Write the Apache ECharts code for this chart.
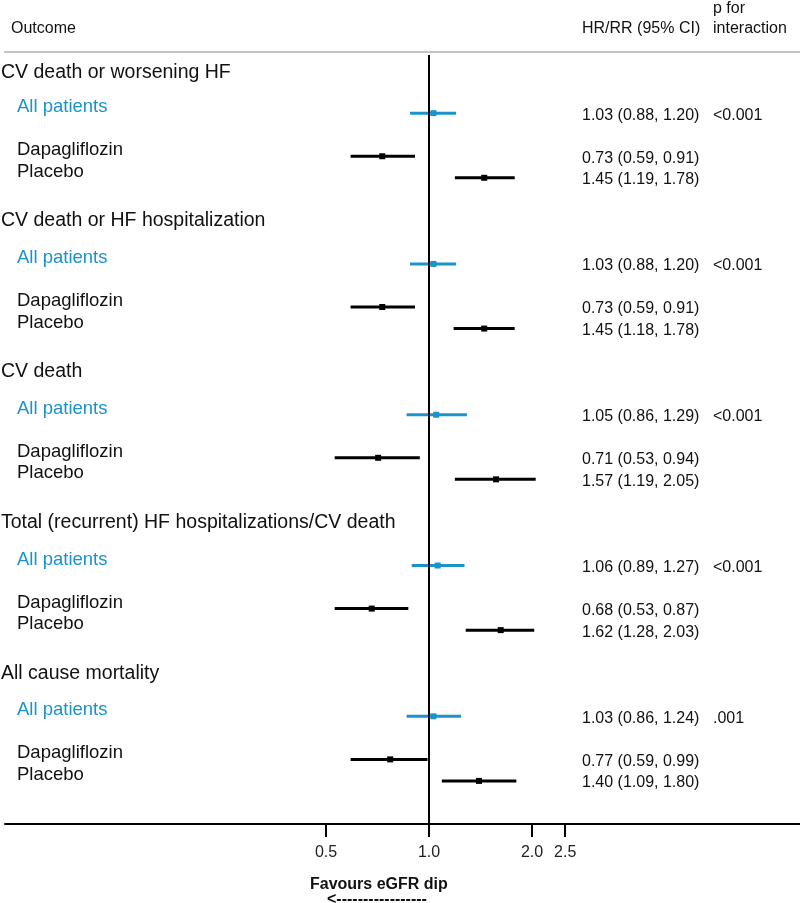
<!DOCTYPE html>
<html><head><meta charset="utf-8">
<script src="https://cdn.jsdelivr.net/npm/echarts@6/dist/echarts.min.js"></script>
<style>html,body{margin:0;padding:0;background:#fff}#c{width:800px;height:903px}</style>
</head><body><div id="c"></div>
<script>
// ---- data ----
const outcomes = [
  'CV death or worsening HF',
  'CV death or HF hospitalization',
  'CV death',
  'Total (recurrent) HF hospitalizations/CV death',
  'All cause mortality'
];
const subgroups = ['All patients', 'Dapagliflozin', 'Placebo'];
const allHR  = [1.03, 1.03, 1.05, 1.06, 1.03];
const allLo  = [0.88, 0.88, 0.86, 0.89, 0.86];
const allHi  = [1.20, 1.20, 1.29, 1.27, 1.24];
const dapaHR = [0.73, 0.73, 0.71, 0.68, 0.77];
const dapaLo = [0.59, 0.59, 0.53, 0.53, 0.59];
const dapaHi = [0.91, 0.91, 0.94, 0.87, 0.99];
const placHR = [1.45, 1.45, 1.57, 1.62, 1.40];
const placLo = [1.19, 1.18, 1.19, 1.28, 1.09];
const placHi = [1.78, 1.78, 2.05, 2.03, 1.80];
const pInteraction = ['<0.001', '<0.001', '<0.001', '<0.001', '.001'];
const xTicks = [0.5, 1.0, 2.0, 2.5];
const headerOutcome = 'Outcome';
const headerHR = 'HR/RR (95% CI)';
const headerP1 = 'p for';
const headerP2 = 'interaction';
const footLabel = 'Favours eGFR dip';
const footArrow = '<-----------------';

// ---- styling / layout ----
const BLUE = '#1a93cb';
const BLACK = '#000000';
const TXT = '#111111';
const FONT = '"Liberation Sans", Arial, Helvetica, sans-serif';
const rowOffset = [0, 2, 3];
const groupStep = 7;
const titleOffset = -2;

const sets = [[allHR, allLo, allHi], [dapaHR, dapaLo, dapaHi], [placHR, placLo, placHi]];
const ciRows = [], ciKind = [], textRows = [];
const fmt = v => v.toFixed(2);
outcomes.forEach((o, g) => {
  const base = g * groupStep;
  textRows.push({pos: base + titleOffset, text: o, x: 1, dy: g === 0 ? 3 : 0, size: 19.5, color: TXT});
  sets.forEach((s, k) => {
    const pos = base + rowOffset[k];
    ciRows.push([s[1][g], s[2][g], s[0][g], pos]);
    ciKind.push(k);
    textRows.push({pos, text: subgroups[k], x: 17, dy: -6, size: 18.5, color: k === 0 ? BLUE : TXT});
    textRows.push({pos, text: fmt(s[0][g]) + ' (' + fmt(s[1][g]) + ', ' + fmt(s[2][g]) + ')', x: 582, dy: 2, size: 16, color: TXT});
    if (k === 0) textRows.push({pos, text: pInteraction[g], x: 713, dy: 2, size: 16, color: TXT});
  });
});

const chart = echarts.init(document.getElementById('c'), null, {renderer: 'canvas'});
chart.setOption({
  animation: false,
  backgroundColor: '#ffffff',
  grid: {left: 5, right: 0, top: 55, bottom: 79},
  xAxis: {
    type: 'log', logBase: 2, min: 0.05765, max: 12.14,
    splitLine: {show: false},
    axisLine: {show: true, onZero: false, lineStyle: {color: BLACK, width: 2}},
    axisTick: {show: true, length: 13, lineStyle: {color: BLACK, width: 2}, customValues: xTicks},
    axisLabel: {show: true, customValues: xTicks, margin: 21, fontSize: 16, fontFamily: FONT, color: '#222',
      formatter: v => Number(v).toFixed(1)}
  },
  yAxis: {type: 'value', inverse: true, min: -2.7, max: 33, show: false},
  series: [
    {
      type: 'custom',
      data: ciRows,
      encode: {x: [0, 1, 2], y: 3},
      silent: true,
      renderItem: (params, api) => {
        const lo = api.value(0), hi = api.value(1), est = api.value(2), pos = api.value(3);
        const a = api.coord([lo, pos]), b = api.coord([hi, pos]), c = api.coord([est, pos]);
        const col = ciKind[params.dataIndex] === 0 ? BLUE : BLACK;
        return {type: 'group', children: [
          {type: 'line', shape: {x1: a[0], y1: a[1], x2: b[0], y2: b[1]}, style: {stroke: col, lineWidth: 3}},
          {type: 'rect', shape: {x: c[0] - 3, y: c[1] - 3, width: 6, height: 6}, style: {fill: col}}
        ]};
      },
      markLine: {
        silent: true, symbol: 'none', label: {show: false},
        lineStyle: {color: BLACK, width: 2, type: 'solid'},
        data: [{xAxis: 1}]
      }
    },
    {
      type: 'custom',
      data: textRows.map(t => [1, t.pos]),
      encode: {x: 0, y: 1},
      silent: true,
      renderItem: (params, api) => {
        const t = textRows[params.dataIndex];
        const p = api.coord([1, t.pos]);
        return {type: 'text', x: t.x, y: p[1] + t.dy, style: {
          text: t.text, fill: t.color, fontSize: t.size, fontFamily: FONT,
          align: 'left', verticalAlign: 'middle'}};
      }
    }
  ],
  graphic: [
    {type: 'text', left: 11, top: 21, style: {text: headerOutcome, fontSize: 16, fontFamily: FONT, fill: TXT}},
    {type: 'text', left: 582, top: 21, style: {text: headerHR, fontSize: 16, fontFamily: FONT, fill: TXT}},
    {type: 'text', left: 713, top: 1, style: {text: headerP1, fontSize: 16, fontFamily: FONT, fill: TXT}},
    {type: 'text', left: 713, top: 21, style: {text: headerP2, fontSize: 16, fontFamily: FONT, fill: TXT}},
    {type: 'line', shape: {x1: 4, y1: 52, x2: 800, y2: 52}, style: {stroke: '#c4c4c4', lineWidth: 2}},
    {type: 'text', left: 310, top: 877, style: {text: footLabel, fontSize: 16, fontWeight: 'bold', fontFamily: FONT, fill: TXT}},
    {type: 'text', left: 327, top: 892, style: {text: footArrow, fontSize: 16, fontWeight: 'bold', fontFamily: FONT, fill: TXT}}
  ]
});
</script></body></html>
